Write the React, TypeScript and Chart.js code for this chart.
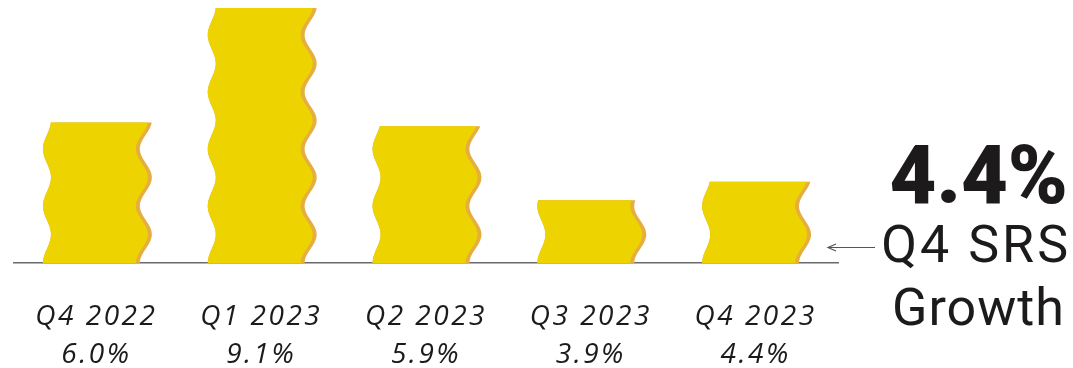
import React, { useEffect, useRef } from "react";
import { Chart, registerables } from "chart.js";

Chart.register(...registerables);

const quarters = ["Q4 2022", "Q1 2023", "Q2 2023", "Q3 2023", "Q4 2023"];
const growth = [6.0, 9.1, 5.9, 3.9, 4.4];
const highlightValue = "4.4%";
const highlightLines = ["Q4 SRS", "Growth"];

const YELLOW = "#EDD400";
const ORANGE = "#E5AE3E";
const TEXT = "#1c1a1a";

const wavyBars = {
  id: "wavyBars",
  beforeDatasetDraw(chart: any, args: any) {
    const meta = args.meta;
    const ctx = chart.ctx;
    const P = 57;
    const AL = 4;
    const AR = 6;
    const band = 4;
    meta.data.forEach((el: any) => {
      const props = el.getProps(["x", "y", "base", "width"], true);
      const x = props.x;
      const width = props.width;
      const base = Math.min(props.base, chart.chartArea.bottom);
      const y = Math.max(props.y, chart.chartArea.top);
      const off = (yy: number) => -Math.cos((2 * Math.PI * (base - yy)) / P);
      const trace = (rightInset: number, fill: string) => {
        const l = x - width / 2;
        const r = x + width / 2 - rightInset;
        ctx.beginPath();
        for (let yy = base; yy > y; yy -= 1) ctx.lineTo(l + AL * off(yy), yy);
        ctx.lineTo(l + AL * off(y), y);
        for (let yy = y; yy < base; yy += 1) ctx.lineTo(r + AR * off(yy), yy);
        ctx.lineTo(r + AR * off(base), base);
        ctx.closePath();
        ctx.fillStyle = fill;
        ctx.fill();
      };
      ctx.save();
      trace(0, ORANGE);
      trace(band, YELLOW);
      ctx.restore();
    });
    return false;
  },
};

const spacing = {
  id: "spacing",
  beforeDraw(chart: any) {
    (chart.ctx as any).letterSpacing = "2.5px";
  },
};

const sideNote = {
  id: "sideNote",
  afterDraw(chart: any) {
    const ctx = chart.ctx;
    ctx.save();
    ctx.fillStyle = TEXT;
    ctx.textAlign = "right";
    ctx.textBaseline = "alphabetic";
    (ctx as any).letterSpacing = "0px";
    ctx.font = "900 81px Roboto";
    ctx.fillText(highlightValue, 1068, 203);
    (ctx as any).letterSpacing = "3px";
    ctx.font = "400 52px Roboto";
    ctx.fillText(highlightLines[0], 1071, 262);
    (ctx as any).letterSpacing = "1px";
    ctx.fillText(highlightLines[1], 1065, 325);
    ctx.strokeStyle = "#555";
    ctx.lineWidth = 1.2;
    ctx.beginPath();
    ctx.moveTo(828, 247.5);
    ctx.lineTo(875, 247.5);
    ctx.moveTo(836, 244);
    ctx.lineTo(828, 247.5);
    ctx.lineTo(836, 251);
    ctx.stroke();
    ctx.restore();
  },
};

export default function App() {
  const ref = useRef<HTMLCanvasElement | null>(null);
  useEffect(() => {
    if (!ref.current) return;
    const chart = new Chart(ref.current, {
      type: "bar",
      data: {
        labels: quarters,
        datasets: [
          {
            data: growth,
            backgroundColor: YELLOW,
            barPercentage: 0.6,
            categoryPercentage: 1,
          },
        ],
      },
      options: {
        responsive: false,
        animation: false,
        events: [],
        layout: { padding: { left: 14, right: 1073 - 838, top: 8, bottom: 0 } },
        plugins: { legend: { display: false }, tooltip: { enabled: false } },
        scales: {
          y: { display: false, min: 2.2, max: 9.1 },
          x: {
            z: 1,
            grid: { display: false, drawTicks: false },
            border: { display: true, color: "#6b6b6b", width: 1.5 },
            afterFit: (scale: any) => {
              scale.height = 105;
            },
            ticks: {
              padding: 35,
              color: TEXT,
              maxRotation: 0,
              autoSkip: false,
              font: { family: '"Open Sans"', size: 28, style: "italic", lineHeight: 38 / 28 },
              callback: (_v: any, i: number) => [quarters[i], growth[i].toFixed(1) + "%"],
            },
          },
        },
      },
      plugins: [wavyBars, spacing, sideNote],
    } as any);
    return () => chart.destroy();
  }, []);
  return (
    <div style={{ position: "absolute", left: 0, top: 0, width: 1073, height: 368, background: "#fff" }}>
      <canvas ref={ref} width={1073} height={368} style={{ display: "block" }} />
    </div>
  );
}
